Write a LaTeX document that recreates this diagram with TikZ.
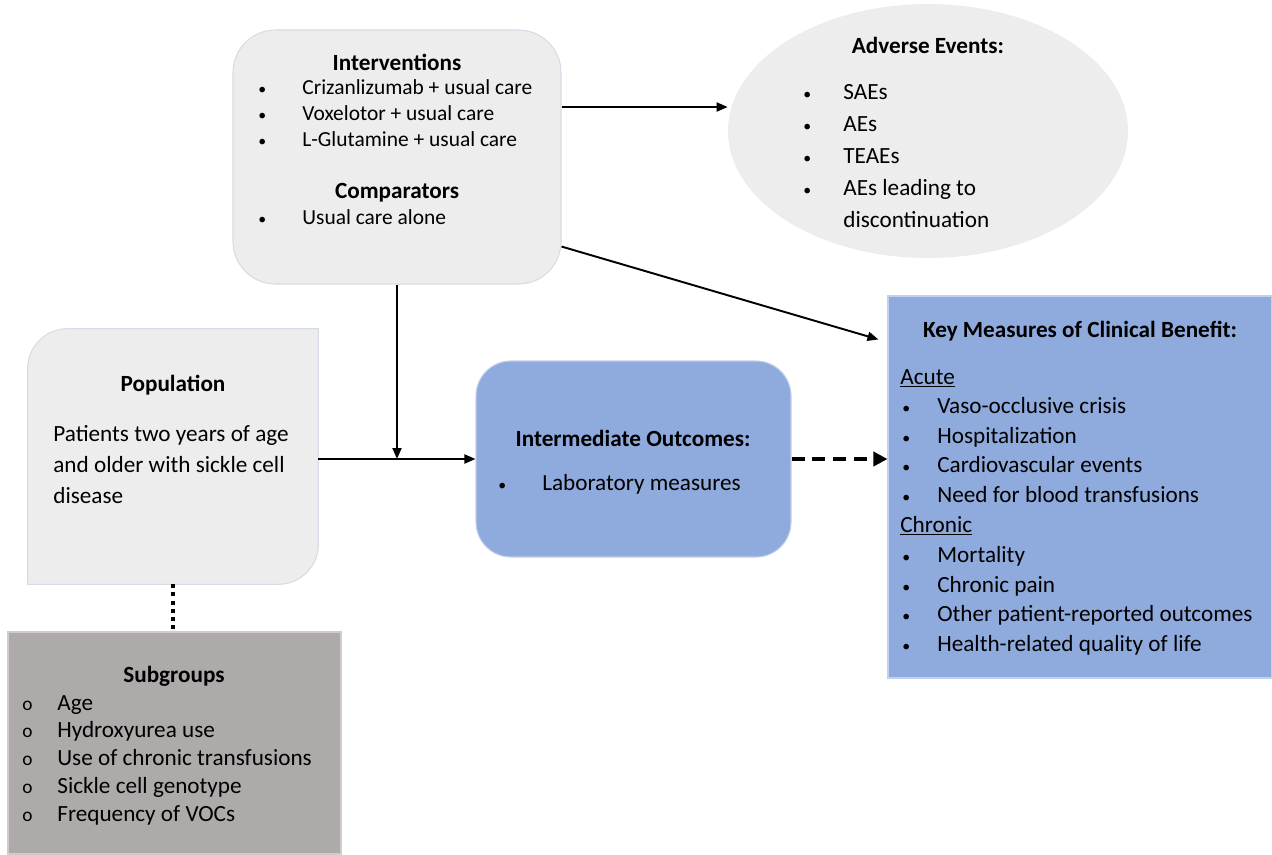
\documentclass[tikz,border=0pt]{standalone}
\usepackage{fontspec}
\setmainfont{Carlito}
\usepackage{xcolor}
\usetikzlibrary{arrows.meta, positioning, shapes.geometric, calc}

\definecolor{boxgray}{HTML}{EDEDED}
\definecolor{boxedge}{HTML}{D6DCE5}
\definecolor{outblue}{HTML}{8FAADC}
\definecolor{subgray}{HTML}{AEAAAA}

\begin{document}
\begin{tikzpicture}[
    % Box styles
    grayround/.style={draw=boxedge, fill=boxgray, line width=0.6pt, inner sep=0pt},
    bluebox/.style={draw=outblue!55!white, fill=outblue, line width=0.6pt, inner sep=0pt},
    % Text styles
    head/.style={font=\fontsize{13.2}{15}\selectfont\bfseries, inner sep=0pt},
    item/.style={font=\fontsize{13.2}{15}\selectfont, anchor=west, inner sep=0pt, text height=0.7em, text depth=0pt},
    smallitem/.style={item, font=\fontsize{12.2}{14}\selectfont},
    dot/.style={item, font=\fontsize{9}{9}\selectfont},
    ring/.style={item, font=\fontsize{11}{11}\selectfont},
    % Connector styles
    arr/.style={line width=1.1pt, -{Triangle[length=2.2mm, width=1.8mm]}},
    dasharr/.style={line width=2.3pt, dash pattern=on 7.4pt off 4.5pt, -{Triangle[length=2.8mm, width=2.8mm]}},
    dotline/.style={line width=2.3pt, dash pattern=on 2.3pt off 2.3pt}
]
\useasboundingbox (0,0) rectangle (25.44,-17.08);

% Boxes
\node[grayround, rounded corners=0.85cm, minimum width=6.56cm, minimum height=5.08cm] (interv_box) at (7.94,-3.14) {};
\node[ellipse, fill=boxgray, inner sep=0pt, minimum width=8.0cm, minimum height=5.08cm] (ae_box) at (18.56,-2.62) {};
\node[inner sep=0pt, minimum width=5.8cm, minimum height=5.1cm] (pop_box) at (3.46,-9.13) {};
\fill[boxgray, draw=boxedge, line width=0.6pt] (pop_box.south west) -- ([yshift=-0.8cm]pop_box.north west)
    arc[start angle=180, end angle=90, radius=0.8cm] -- (pop_box.north east)
    -- ([yshift=0.8cm]pop_box.south east) arc[start angle=0, end angle=-90, radius=0.8cm] -- cycle;
\node[bluebox, rounded corners=0.7cm, minimum width=6.3cm, minimum height=3.92cm] (mid_box) at (12.67,-9.18) {};
\node[bluebox, minimum width=7.68cm, minimum height=7.64cm] (key_box) at (21.6,-9.74) {};
\node[fill=subgray, draw=subgray!60!white, line width=0.6pt, inner sep=0pt, minimum width=6.66cm, minimum height=4.44cm] (sub_box) at (3.49,-14.86) {};

% Interventions and comparators
\node[head] (interv_title) at (7.94,-1.24) {Interventions};
\foreach \t [count=\i] in {Crizanlizumab + usual care, Voxelotor + usual care, L-Glutamine + usual care} {
    \node[dot] (interv_dot\i) at (5.16,-1.24-0.52*\i) {\textbullet};
    \node[smallitem] (interv_item\i) at (6.04,-1.24-0.52*\i) {\t};
}
\node[head] (comp_title) at (7.94,-3.86) {Comparators};
\node[dot] (comp_dot) at (5.16,-4.36) {\textbullet};
\node[smallitem] (comp_item) at (6.04,-4.36) {Usual care alone};

% Adverse events
\node[head] (ae_title) at (18.56,-0.9) {Adverse Events:};
\foreach \t [count=\i] in {SAEs, AEs, TEAEs, AEs leading to} {
    \node[dot] (ae_dot\i) at (16.06,-1.22-0.64*\i) {\textbullet};
    \node[item] (ae_item\i) at (16.86,-1.22-0.64*\i) {\t};
}
\node[item] (ae_item5) at (16.86,-4.42) {discontinuation};

% Population
\node[head] (pop_title) at (3.46,-7.7) {Population};
\foreach \t [count=\i] in {Patients two years of age, and older with sickle cell, disease} {
    \node[item] (pop_line\i) at (1.06,-8.08-0.62*\i) {\t};
}

% Intermediate outcomes
\node[head] (mid_title) at (12.66,-8.76) {Intermediate Outcomes:};
\node[dot] (mid_dot) at (9.96,-9.68) {\textbullet};
\node[item] (mid_item) at (10.84,-9.68) {Laboratory measures};

% Key measures
\node[head] (key_title) at (21.6,-6.62) {Key Measures of Clinical Benefit:};
\node[item] (acute) at (18.0,-7.56) {\underline{Acute}};
\foreach \t [count=\i] in {Vaso-occlusive crisis, Hospitalization, Cardiovascular events, Need for blood transfusions} {
    \node[dot] (acute_dot\i) at (18.04,-7.55-0.594*\i) {\textbullet};
    \node[item] (acute_item\i) at (18.74,-7.55-0.594*\i) {\t};
}
\node[item] (chronic) at (18.0,-10.52) {\underline{Chronic}};
\foreach \t [count=\i] in {Mortality, Chronic pain, Other patient-reported outcomes, Health-related quality of life} {
    \node[dot] (chronic_dot\i) at (18.04,-10.53-0.594*\i) {\textbullet};
    \node[item] (chronic_item\i) at (18.74,-10.53-0.594*\i) {\t};
}

% Subgroups
\node[head] (sub_title) at (3.48,-13.52) {Subgroups};
\foreach \t [count=\i] in {Age, Hydroxyurea use, Use of chronic transfusions, Sickle cell genotype, Frequency of VOCs} {
    \node[ring] (sub_dot\i) at (0.44,-13.525-0.555*\i) {o};
    \node[item] (sub_item\i) at (1.14,-13.525-0.555*\i) {\t};
}

% Connectors
\draw[arr] ([yshift=1cm]interv_box.east) -- ([yshift=1cm]interv_box.east -| ae_box.west);
\draw[arr] ([yshift=0.76cm]interv_box.south east) -- ([xshift=-0.18cm, yshift=-0.88cm]key_box.north west);
\draw[arr] (interv_box.south) -- (interv_box.south |- mid_box.west);
\draw[arr] (pop_box.east |- mid_box.west) -- (mid_box.west);
\draw[dasharr] (mid_box.east) -- (mid_box.east -| key_box.west);
\draw[dotline] (pop_box.south) -- (pop_box.south |- sub_box.north);

\end{tikzpicture}
\end{document}
